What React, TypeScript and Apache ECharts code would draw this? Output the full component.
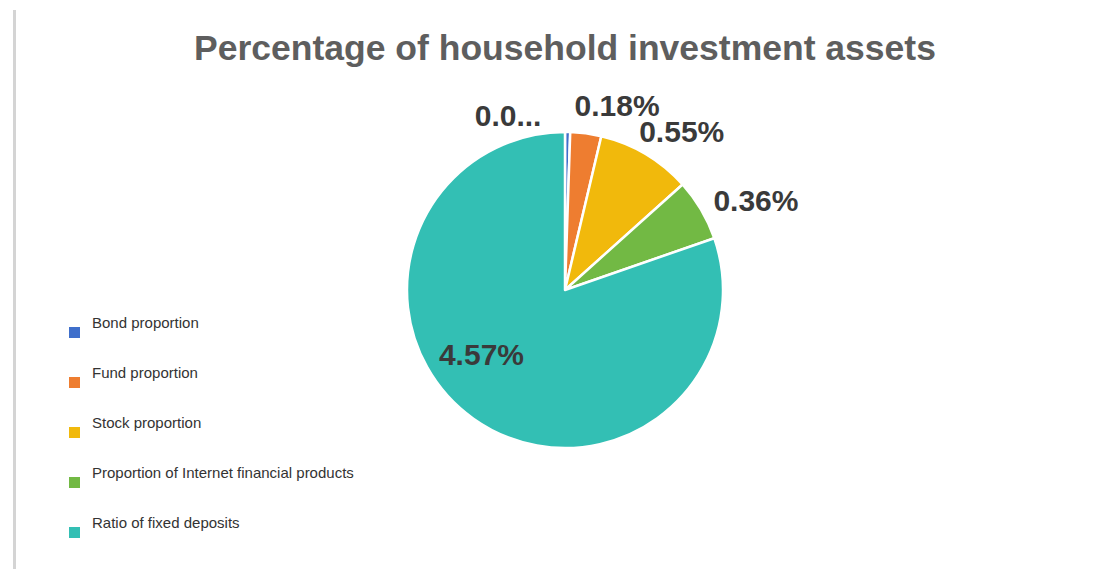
import React, { useEffect, useRef } from "react";
import * as echarts from "echarts";

const categories = [
  "Bond proportion",
  "Fund proportion",
  "Stock proportion",
  "Proportion of Internet financial products",
  "Ratio of fixed deposits",
];
const values = [0.03, 0.18, 0.55, 0.36, 4.57];
const colors = ["#3f6fcb", "#ee7d30", "#f1b90c", "#72b944", "#33bfb4"];
const titleText = "Percentage of household investment assets";
// label nudges (dx, dy) per slice
const labelShift: [number, number][] = [
  [-98, -12],
  [-17, -23],
  [-14, -18],
  [3, -7],
  [-36, -2],
];
// room available to each label (0 = unlimited)
const labelRoom = [74, 0, 0, 0, 0];
const labelFont = "bold 30px 'Liberation Sans'";

export default function App() {
  const ref = useRef<HTMLDivElement>(null);
  useEffect(() => {
    const chart = echarts.init(ref.current!, null, { renderer: "svg" });
    const data = categories.map((name, i) => {
      const item: any = { name, value: values[i], itemStyle: { color: colors[i] } };
      if (i === 4) item.label = { position: "inside" };
      return item;
    });
    chart.setOption({
      animation: false,
      backgroundColor: "#ffffff",
      title: {
        text: titleText,
        left: 560,
        textAlign: "center",
        top: 25,
        textStyle: {
          fontFamily: "Liberation Sans",
          fontSize: 35.5,
          fontWeight: "bold",
          color: "#5e5e5e",
        },
      },
      legend: {
        orient: "vertical",
        left: 67,
        top: 315,
        padding: 0,
        itemWidth: 13,
        itemHeight: 13,
        itemGap: 15,
        icon: "rect",
        data: categories,
        formatter: (name: string) => `{t|${name}}\n{b| }`,
        textStyle: {
          fontFamily: "Liberation Sans",
          fontSize: 15,
          color: "#333333",
          rich: {
            t: { fontSize: 15, lineHeight: 20, padding: [0, 0, 0, 6], color: "#333333" },
            b: { fontSize: 15, lineHeight: 20 },
          },
        },
      },
      graphic: [
        {
          type: "rect",
          left: 13,
          top: 10,
          shape: { width: 3, height: 560 },
          style: { fill: "#d4d4d4" },
        },
      ],
      series: [
        {
          type: "pie",
          center: [565, 290],
          radius: [0, 158],
          startAngle: 90,
          clockwise: true,
          avoidLabelOverlap: false,
          itemStyle: { borderColor: "#ffffff", borderWidth: 2.5 },
          label: {
            show: true,
            position: "outside",
            formatter: (p: any) => {
              const txt = `${p.value}%`;
              const room = labelRoom[p.dataIndex];
              return room ? echarts.format.truncateText(txt, room, labelFont, "...") : txt;
            },
            fontFamily: "Liberation Sans",
            fontSize: 30,
            fontWeight: "bold",
            color: "#3a3a3a",
          },
          labelLine: { show: false, length: 5, length2: 0 },
          labelLayout: (params: any) => {
            const s = labelShift[params.dataIndex] || [0, 0];
            return { dx: s[0], dy: s[1] };
          },
          data,
        },
      ],
    });
    return () => chart.dispose();
  }, []);
  return (
    <div
      ref={ref}
      style={{ position: "fixed", left: 0, top: 0, width: 1110, height: 569 }}
    />
  );
}
